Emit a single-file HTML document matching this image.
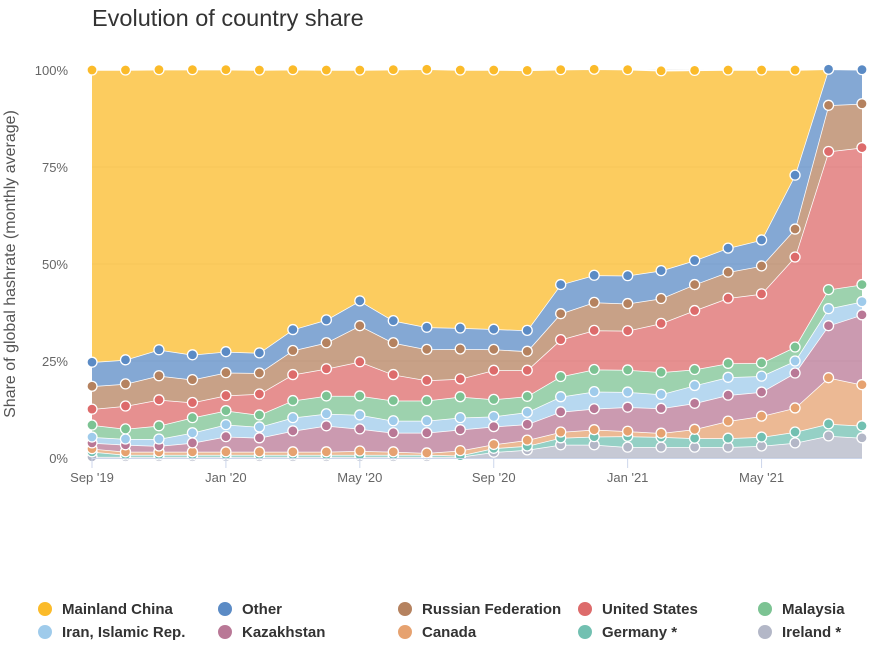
<!DOCTYPE html>
<html><head><meta charset="utf-8">
<style>
body{margin:0;background:#fff;width:878px;height:654px;overflow:hidden;font-family:"Liberation Sans",sans-serif;}
svg{display:block}
</style></head>
<body>
<svg id="chart" width="878" height="654">
<text x="92" y="26" font-size="23.5" fill="#333">Evolution of country share</text>
<text transform="translate(15,264) rotate(-90)" text-anchor="middle" font-size="16" fill="#555">Share of global hashrate (monthly average)</text>
<g id="grid"></g><g id="areas"></g><g id="marks"></g><g id="axes"></g><g id="legend"></g>
</svg>
<script>
const months = ["Sep '19","Oct '19","Nov '19","Dec '19","Jan '20","Feb '20","Mar '20","Apr '20","May '20","Jun '20","Jul '20","Aug '20","Sep '20","Oct '20","Nov '20","Dec '20","Jan '21","Feb '21","Mar '21","Apr '21","May '21","Jun '21","Jul '21","Aug '21"];
const xTickLabels = ["Sep '19","Jan '20","May '20","Sep '20","Jan '21","May '21"];
const xTickIndex = [0,4,8,12,16,20];
const yTicks = [0,25,50,75,100];
const seriesNames = ["Mainland China","Other","Russian Federation","United States","Malaysia","Iran, Islamic Rep.","Kazakhstan","Canada","Germany *","Ireland *"];
const china = [75.3,74.7,72.2,73.5,72.7,72.9,67.0,64.4,59.5,64.7,66.5,66.5,66.8,67.0,55.4,53.1,53.1,51.5,49.0,45.9,43.8,27.1,0,0];
const other = [6.2,6.2,6.7,6.4,5.4,5.2,5.4,5.9,6.4,5.7,5.7,5.4,5.2,5.4,7.5,7.0,7.2,7.2,6.2,6.2,6.7,13.9,9.3,8.8];
const russia = [5.9,5.7,6.2,5.9,5.9,5.4,6.2,6.7,9.3,8.2,8.0,7.7,5.4,4.9,6.7,7.2,7.0,6.4,6.7,6.7,7.2,7.2,11.9,11.3];
const usa = [4.1,5.9,6.7,3.9,3.9,5.4,6.7,7.0,8.8,6.7,5.2,4.6,7.5,6.7,9.5,10.1,10.1,12.6,15.2,16.8,17.8,23.2,35.6,35.3];
const malaysia = [3.1,2.6,3.4,3.9,3.6,3.1,4.4,4.6,4.9,5.2,5.2,5.4,4.4,4.1,5.2,5.7,5.7,5.7,4.1,3.6,3.4,3.6,4.9,4.4];
const iran = [1.5,1.5,1.8,2.6,3.1,2.8,3.4,3.1,3.6,3.1,3.1,3.1,2.6,3.1,3.9,4.4,3.9,3.6,4.6,4.6,4.1,3.1,4.4,3.4];
const kazakhstan = [1.5,1.8,1.5,2.3,3.9,3.6,5.4,6.7,5.7,4.9,5.2,5.4,4.6,4.1,5.2,5.4,6.2,6.4,6.7,6.7,6.2,9.0,13.4,18.0];
const canada = [0.8,0.8,0.8,0.8,0.8,0.8,0.8,0.8,1.0,0.8,0.5,1.3,1.0,1.5,1.5,1.8,1.3,1.0,2.3,4.4,5.4,6.2,11.9,10.6];
const germany = [1.3,0.5,0.5,0.5,0.5,0.5,0.5,0.5,0.5,0.5,0.5,0.3,1.0,1.0,1.8,2.1,2.8,2.6,2.3,2.3,2.3,2.8,3.1,3.1];
const ireland = [0.3,0.3,0.3,0.3,0.3,0.3,0.3,0.3,0.3,0.3,0.3,0.3,1.5,2.1,3.4,3.4,2.8,2.8,2.8,2.8,3.1,3.9,5.7,5.2];
const seriesData = [china,other,russia,usa,malaysia,iran,kazakhstan,canada,germany,ireland];
const colors = ["#fbbb2a","#5b8bc5","#b5825f","#dd6b6b","#7cc393","#9fcbeb","#b97896","#e6a270","#72c0b1","#b3b7c7"];
const slugs = ["china","other","russia","united-states","malaysia","iran","kazakhstan","canada","germany","ireland"];

const X0=92,X1=862,Y0=458,Y1=70;
function xs(i){return X0+(X1-X0)*i/(months.length-1);}
function ys(v){return Y0-(Y0-Y1)*v/100;}
const NS="http://www.w3.org/2000/svg";
function mk(t,a,p){const e=document.createElementNS(NS,t);for(const k in a)e.setAttribute(k,a[k]);p.appendChild(e);return e;}
const grid=document.getElementById('grid'),areas=document.getElementById('areas'),marks=document.getElementById('marks'),axes=document.getElementById('axes'),legend=document.getElementById('legend');

yTicks.forEach(t=>{
  const l=mk('line',{x1:X0,x2:X1,y1:ys(t),y2:ys(t),stroke:'#e6e6e6','stroke-width':1},grid);
  
  
  const tx=mk('text',{x:68,y:ys(t)+5,'text-anchor':'end','font-size':13,fill:'#666'},axes);
  tx.textContent=t+'%';
  
  
});
const ax=mk('line',{x1:X0,x2:X1,y1:Y0+0.5,y2:Y0+0.5,stroke:'#ccd6eb','stroke-width':1},axes);


xTickIndex.forEach((idx,k)=>{
  const x=xs(idx);
  const tk=mk('line',{x1:x,x2:x,y1:Y0,y2:Y0+10,stroke:'#ccd6eb'},axes);
  
  
  const tx=mk('text',{x:x,y:Y0+24,'text-anchor':'middle','font-size':13,fill:'#666'},axes);
  tx.textContent=xTickLabels[k];
  
  
});

const n=months.length;
let base=new Array(n).fill(0);
const tops=[];
for(let s=seriesData.length-1;s>=0;s--){
  const top=base.map((b,i)=>b+seriesData[s][i]);
  tops[s]={top:top.slice(),bot:base.slice()};
  base=top;
}
for(let s=seriesData.length-1;s>=0;s--){
  const {top,bot}=tops[s];
  let d='';
  for(let i=0;i<n;i++)d+=(i?'L':'M')+xs(i)+','+ys(top[i]);
  for(let i=n-1;i>=0;i--)d+='L'+xs(i)+','+ys(bot[i]);
  d+='Z';
  const a=mk('path',{d:d,fill:colors[s],'fill-opacity':0.75,stroke:'none'},areas);
  
  
  let ld='';
  for(let i=0;i<n;i++)ld+=(i?'L':'M')+xs(i)+','+ys(top[i]);
  const ln=mk('path',{d:ld,fill:'none',stroke:'#fff','stroke-width':1.5},areas);
  
  
}
for(let s=seriesData.length-1;s>=0;s--){
  const {top}=tops[s];
  for(let i=0;i<n;i++){
    if(s===0 && seriesData[0][i]===0) continue;
    const c=mk('circle',{cx:xs(i),cy:ys(top[i]),r:5,fill:colors[s],stroke:'#fff','stroke-width':1.3},marks);
    
    
  }
}
const legX=[45,225,405,585,765],legY=[609,632];
seriesNames.forEach((nm,i)=>{
  const x=legX[i%5],y=legY[Math.floor(i/5)];
  const g=mk('g',{},legend);
  
  
  mk('circle',{cx:x,cy:y,r:7,fill:colors[i]},g);
  const t=mk('text',{x:x+17,y:y+5,'font-size':15,'font-weight':'bold',fill:'#333'},g);
  t.textContent=nm;
});
</script>
</body></html>
